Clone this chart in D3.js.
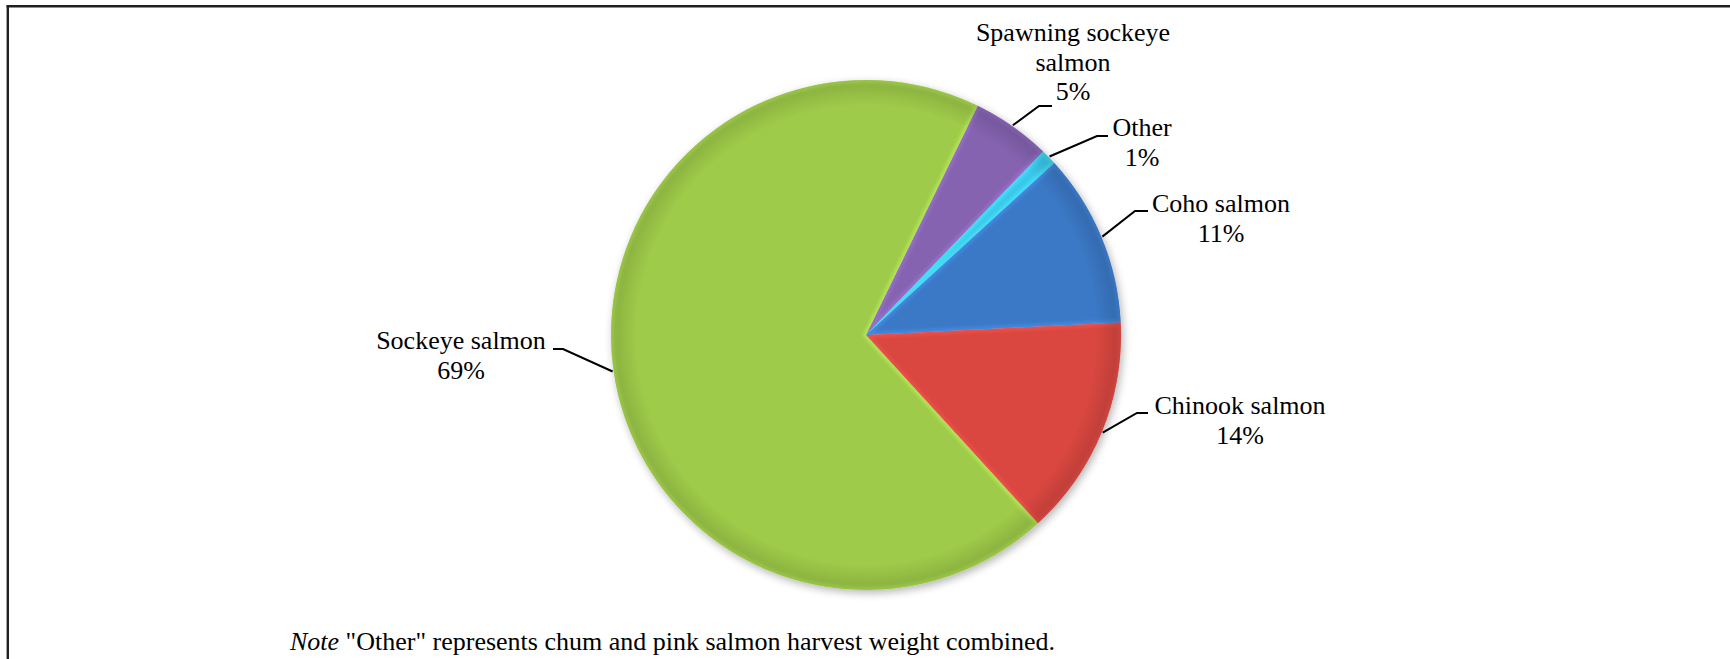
<!DOCTYPE html>
<html>
<head>
<meta charset="utf-8">
<script src="https://cdn.jsdelivr.net/npm/d3@7"></script>
<style>
  html, body { margin: 0; padding: 0; background: #fff; }
  svg { display: block; }
  text { font-family: "Liberation Serif", "Times New Roman", serif; fill: #000; }
</style>
</head>
<body>
<svg id="chart" width="1730" height="659"></svg>
<script>
// Share of harvest weight by salmon group (percent), clockwise order
const categories = ["Spawning sockeye salmon", "Other", "Coho salmon", "Chinook salmon", "Sockeye salmon"];
const labelLines = [["Spawning sockeye", "salmon"], ["Other"], ["Coho salmon"], ["Chinook salmon"], ["Sockeye salmon"]];
const percentages = [5, 1, 11, 14, 69];
const sliceColors = ["#7e5ea8", "#38bde0", "#3873bd", "#cf423e", "#96c046"];
const noteLabel = "Note";
const noteBody = " \"Other\" represents chum and pink salmon harvest weight combined.";

// Layout
const W = 1730, H = 659;
const cx = 866, cy = 335, R = 255;
const startDeg = 26;
const fontSize = 26, lineH = 29.7;

// Leader elbow / end and text placement, relative to the pie centre
const labelLayout = [
  { elbow: [173, -229], end: [186, -229], tx: 207, ty: -294 },
  { elbow: [231, -199], end: [242, -199], tx: 276, ty: -199 },
  { elbow: [269, -124], end: [282, -124], tx: 355, ty: -123 },
  { elbow: [271, 78],   end: [282, 78],   tx: 374, ty: 79 },
  { elbow: [-303, 14],  end: [-313, 14],  tx: -405, ty: 14 }
];

const svg = d3.select("#chart");
const defs = svg.append("defs");

// soft shadow under the pie
const shadow = defs.append("filter").attr("id", "pieShadow")
  .attr("x", "-20%").attr("y", "-20%").attr("width", "140%").attr("height", "140%");
shadow.append("feGaussianBlur").attr("in", "SourceAlpha").attr("stdDeviation", 4).attr("result", "b");
shadow.append("feOffset").attr("in", "b").attr("dx", 2).attr("dy", 3).attr("result", "o");
shadow.append("feComponentTransfer").attr("in", "o").attr("result", "s")
  .append("feFuncA").attr("type", "linear").attr("slope", 0.3);
const merge = shadow.append("feMerge");
merge.append("feMergeNode").attr("in", "s");
merge.append("feMergeNode").attr("in", "SourceGraphic");

const bevelBlur = defs.append("filter").attr("id", "bevelBlur");
bevelBlur.append("feGaussianBlur").attr("stdDeviation", 1.5);

// diagonal shading per slice colour
sliceColors.forEach((c, i) => {
  const g = defs.append("linearGradient").attr("id", "grad" + i)
    .attr("gradientUnits", "userSpaceOnUse")
    .attr("x1", cx - R * 0.6).attr("y1", cy - R).attr("x2", cx + R * 0.3).attr("y2", cy + R);
  g.append("stop").attr("offset", 0).attr("stop-color", d3.color(c).brighter(0.15));
  g.append("stop").attr("offset", 0.5).attr("stop-color", c);
  g.append("stop").attr("offset", 1).attr("stop-color", d3.color(c).darker(0.4));
});

// rim darkening
const rim = defs.append("radialGradient").attr("id", "rimShade")
  .attr("gradientUnits", "userSpaceOnUse").attr("cx", cx).attr("cy", cy).attr("r", R);
rim.append("stop").attr("offset", 0.9).attr("stop-color", "#000").attr("stop-opacity", 0);
rim.append("stop").attr("offset", 1).attr("stop-color", "#000").attr("stop-opacity", 0.14);

// frame lines (left and top)
svg.append("line").attr("x1", 7.8).attr("x2", 7.8).attr("y1", 5).attr("y2", H)
  .attr("stroke", "#231f20").attr("stroke-width", 2.4);
svg.append("line").attr("x1", 6.6).attr("x2", W).attr("y1", 6.2).attr("y2", 6.2)
  .attr("stroke", "#231f20").attr("stroke-width", 2.4);

const pie = d3.pie().sort(null).value(d => d)
  .startAngle(startDeg * Math.PI / 180)
  .endAngle(startDeg * Math.PI / 180 + 2 * Math.PI);
const arcs = pie(percentages);
const arc = d3.arc().innerRadius(0).outerRadius(R);

const pieG = svg.append("g").attr("transform", `translate(${cx},${cy})`);
const sliceLayer = pieG.append("g").attr("filter", "url(#pieShadow)");

arcs.forEach((a, i) => {
  defs.append("clipPath").attr("id", "clip" + i)
    .append("path").attr("transform", `translate(${cx},${cy})`).attr("d", arc(a));
});

sliceLayer.selectAll("path.slice").data(arcs).join("path")
  .attr("class", "slice")
  .attr("d", arc)
  .attr("fill", (d, i) => `url(#grad${i})`);

// bevel highlight along slice edges
const bevel = svg.append("g");
arcs.forEach((a, i) => {
  bevel.append("g").attr("clip-path", `url(#clip${i})`)
    .append("path")
    .attr("transform", `translate(${cx},${cy})`)
    .attr("d", arc(a))
    .attr("fill", "none")
    .attr("stroke", d3.color(sliceColors[i]).brighter(0.8))
    .attr("stroke-opacity", 0.45)
    .attr("stroke-width", 6)
    .attr("stroke-linejoin", "round")
    .attr("filter", "url(#bevelBlur)");
});
svg.append("circle").attr("cx", cx).attr("cy", cy).attr("r", R).attr("fill", "url(#rimShade)");

// leader lines and labels
const labels = svg.append("g");
arcs.forEach((a, i) => {
  const m = (a.startAngle + a.endAngle) / 2;
  const lay = labelLayout[i];
  const sx = cx + (R + 1) * Math.sin(m), sy = cy - (R + 1) * Math.cos(m);
  labels.append("polyline")
    .attr("points", [[sx, sy], [cx + lay.elbow[0], cy + lay.elbow[1]], [cx + lay.end[0], cy + lay.end[1]]]
      .map(p => p.join(",")).join(" "))
    .attr("fill", "none").attr("stroke", "#000").attr("stroke-width", 2);

  const lines = labelLines[i].concat([percentages[i] + "%"]);
  const t = labels.append("text")
    .attr("text-anchor", "middle")
    .attr("font-size", fontSize);
  lines.forEach((ln, k) => {
    t.append("tspan").attr("x", cx + lay.tx).attr("y", cy + lay.ty + k * lineH).text(ln);
  });
});

// footnote
const note = svg.append("text").attr("x", 290).attr("y", 650).attr("font-size", fontSize);
note.append("tspan").attr("font-style", "italic").text(noteLabel);
note.append("tspan").text(noteBody);
</script>
</body>
</html>
